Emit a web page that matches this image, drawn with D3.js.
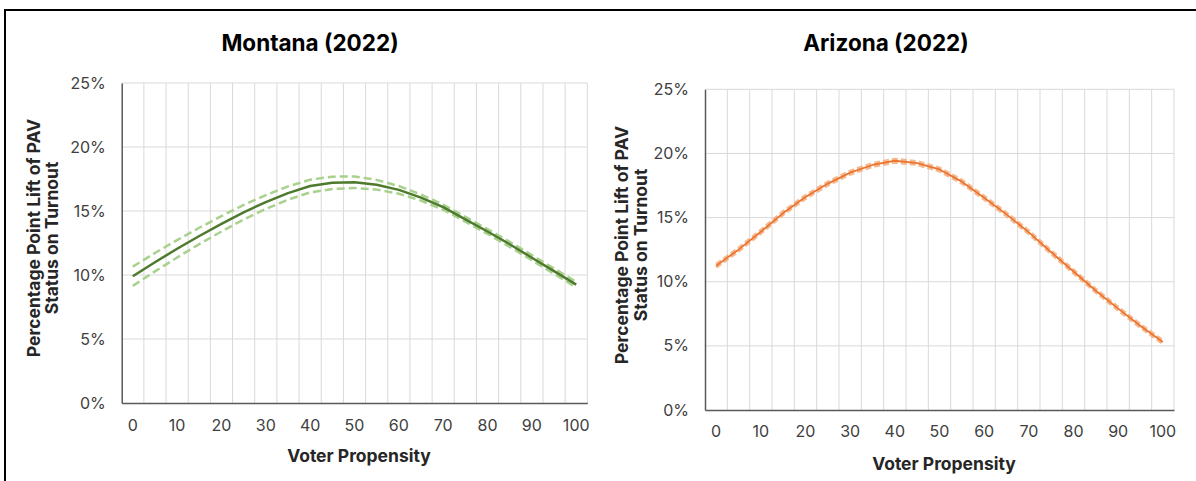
<!DOCTYPE html>
<html>
<head>
<meta charset="utf-8">
<script src="https://cdn.jsdelivr.net/npm/d3@7"></script>
<style>
  html, body { margin: 0; padding: 0; background: #fff; }
  svg { display: block; font-family: Inter, "Noto Sans", Arial, sans-serif; }
</style>
</head>
<body>
<svg id="chart" width="1196" height="481"></svg>
<script>
// Voter propensity categories (every 5 points)
const propensity = [0, 5, 10, 15, 20, 25, 30, 35, 40, 45, 50, 55, 60, 65, 70, 75, 80, 85, 90, 95, 100];
const xTickLabels = [0, 10, 20, 30, 40, 50, 60, 70, 80, 90, 100];
const yTicks = [0, 0.05, 0.10, 0.15, 0.20, 0.25];

// Montana (2022): estimated lift and confidence bounds, in percent
const montanaMean  = [9.9, 11.0, 12.05, 13.05, 14.0, 14.9, 15.7, 16.4, 16.95, 17.2, 17.25, 17.05, 16.65, 16.05, 15.3, 14.35, 13.4, 12.4, 11.35, 10.3, 9.25];
const montanaUpper = [10.65, 11.72, 12.73, 13.69, 14.6, 15.47, 16.24, 16.92, 17.45, 17.68, 17.7, 17.43, 16.95, 16.29, 15.5, 14.54, 13.59, 12.6, 11.55, 10.51, 9.47];
const montanaLower = [9.15, 10.28, 11.37, 12.41, 13.4, 14.33, 15.16, 15.88, 16.45, 16.72, 16.8, 16.67, 16.35, 15.81, 15.1, 14.16, 13.21, 12.2, 11.15, 10.09, 9.03];

// Arizona (2022): estimated lift and confidence bounds, in percent
const arizonaMean  = [11.25, 12.5, 13.9, 15.35, 16.6, 17.65, 18.5, 19.1, 19.43, 19.25, 18.75, 17.8, 16.55, 15.25, 13.85, 12.3, 10.8, 9.3, 7.9, 6.55, 5.3];
const arizonaUpper = [11.37, 12.62, 14.02, 15.47, 16.72, 17.77, 18.62, 19.22, 19.55, 19.37, 18.87, 17.92, 16.67, 15.37, 13.97, 12.42, 10.92, 9.42, 8.02, 6.67, 5.42];
const arizonaLower = [11.13, 12.38, 13.78, 15.23, 16.48, 17.53, 18.38, 18.98, 19.31, 19.13, 18.63, 17.68, 16.43, 15.13, 13.73, 12.18, 10.68, 9.18, 7.78, 6.43, 5.18];

const svg = d3.select("#chart");

// Frame lines along the top and left edges
svg.append("path")
  .attr("d", "M5,481 L5,10 L1196,10")
  .attr("fill", "none")
  .attr("stroke", "#000")
  .attr("stroke-width", 2);

function drawPanel(cfg) {
  const g = svg.append("g");
  const x = d3.scaleBand().domain(propensity).range([cfg.left, cfg.right]).padding(0);
  const y = d3.scaleLinear().domain([0, 0.25]).range([cfg.bottom, cfg.top]);
  const cx = v => x(v) + x.bandwidth() / 2;

  // Horizontal gridlines
  g.append("g").selectAll("line")
    .data(yTicks.filter(t => t > 0))
    .join("line")
    .attr("x1", cfg.left).attr("x2", cfg.right)
    .attr("y1", d => y(d)).attr("y2", d => y(d))
    .attr("stroke", "#d9d9d9").attr("stroke-width", 1);

  // Vertical gridlines at category boundaries
  const bounds = propensity.slice(1).map(v => x(v)).concat([cfg.right]);
  g.append("g").selectAll("line")
    .data(bounds)
    .join("line")
    .attr("x1", d => d).attr("x2", d => d)
    .attr("y1", cfg.top).attr("y2", cfg.bottom)
    .attr("stroke", "#d9d9d9").attr("stroke-width", 1);

  // Y axis
  const yAxis = g.append("g")
    .attr("transform", `translate(${cfg.left},0)`)
    .call(d3.axisLeft(y).tickValues(yTicks).tickSize(0).tickPadding(16)
      .tickFormat(d3.format(".0%")));
  yAxis.select(".domain").attr("stroke", "#595959").attr("stroke-width", 1.5);
  yAxis.selectAll("text")
    .attr("font-size", 16).attr("fill", "#404040")
    .attr("font-family", "Inter, sans-serif");

  // X axis: labels every 10 points
  const xAxis = g.append("g")
    .attr("transform", `translate(0,${cfg.bottom})`)
    .call(d3.axisBottom(x).tickValues(xTickLabels).tickSize(0).tickPadding(cfg.xPad));
  xAxis.select(".domain").attr("stroke", "#595959").attr("stroke-width", 1.5);
  xAxis.selectAll("text")
    .attr("font-size", 16).attr("fill", "#404040")
    .attr("font-family", "Inter, sans-serif");

  const line = d3.line().x((d, i) => cx(propensity[i])).y(d => y(d / 100));

  const drawBound = (data) => g.append("path")
    .datum(data)
    .attr("fill", "none")
    .attr("stroke", cfg.ciColor)
    .attr("stroke-width", cfg.ciWidth)
    .attr("stroke-dasharray", cfg.dash)
    .attr("opacity", cfg.ciOpacity)
    .attr("d", line);

  const drawMean = () => g.append("path")
    .datum(cfg.mean)
    .attr("fill", "none")
    .attr("stroke", cfg.meanColor)
    .attr("stroke-width", cfg.meanWidth)
    .attr("stroke-linejoin", "round")
    .attr("d", line);

  drawBound(cfg.upper);
  drawBound(cfg.lower);
  drawMean();

  // Title
  g.append("text")
    .attr("x", cfg.titleX).attr("y", cfg.titleY)
    .attr("text-anchor", "middle")
    .attr("font-size", 22.5).attr("font-weight", 700).attr("fill", "#000")
    .text(cfg.title);

  // X axis title
  g.append("text")
    .attr("x", cfg.xTitleX).attr("y", cfg.xTitleY)
    .attr("text-anchor", "middle")
    .attr("font-size", 17.5).attr("font-weight", 700).attr("fill", "#262626")
    .text("Voter Propensity");

  // Y axis title (two lines, rotated)
  const yt = g.append("text")
    .attr("transform", `translate(${cfg.yTitleX},${cfg.yTitleY}) rotate(-90)`)
    .attr("text-anchor", "middle")
    .attr("font-size", 17.5).attr("font-weight", 700).attr("fill", "#262626");
  yt.append("tspan").attr("x", 0).attr("dy", 0).text("Percentage Point Lift of PAV");
  yt.append("tspan").attr("x", 0).attr("dy", 18.5).text("Status on Turnout");
}

drawPanel({
  title: "Montana (2022)", titleX: 310, titleY: 51,
  left: 121.7, right: 587.3, top: 83, bottom: 403, xPad: 17,
  xTitleX: 359, xTitleY: 462,
  yTitleX: 39.5, yTitleY: 238,
  mean: montanaMean, upper: montanaUpper, lower: montanaLower,
  meanColor: "#4e7a2e", meanWidth: 2.5,
  ciColor: "#a9d18e", ciWidth: 2.5, dash: "8,4", ciOpacity: 1
});

drawPanel({
  title: "Arizona (2022)", titleX: 886, titleY: 51,
  left: 705, right: 1174, top: 89.3, bottom: 410, xPad: 16,
  xTitleX: 944, xTitleY: 470,
  yTitleX: 628, yTitleY: 245,
  mean: arizonaMean, upper: arizonaUpper, lower: arizonaLower,
  meanColor: "#ec7430", meanWidth: 1.8,
  ciColor: "#f4b183", ciWidth: 3, dash: "6,3", ciOpacity: 0.9
});
</script>
</body>
</html>
